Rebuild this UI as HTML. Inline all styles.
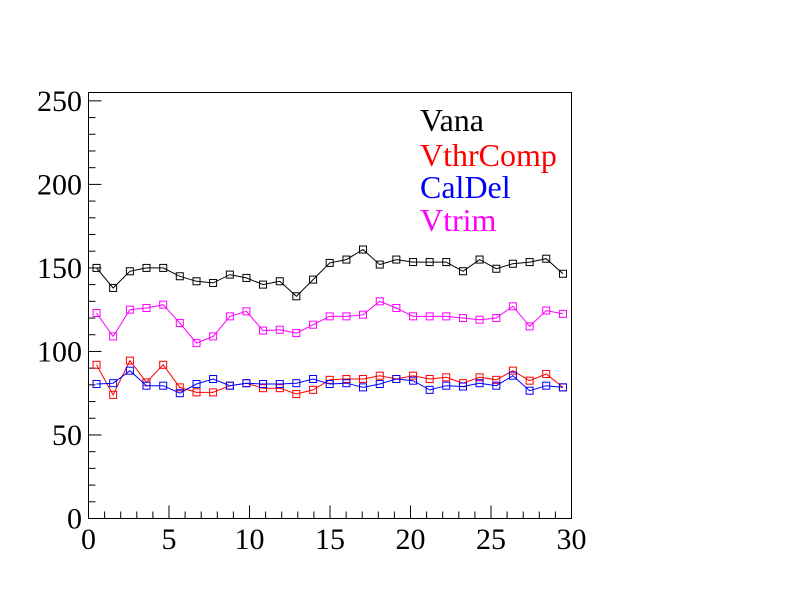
<!DOCTYPE html>
<html><head><meta charset="utf-8"><style>
body{margin:0;background:#fff}
svg{display:block}
text{font-family:"Liberation Serif",serif}
</style></head><body>
<svg id="c" width="792" height="612">
<rect x="88.5" y="92.5" width="483" height="426" fill="none" stroke="#000"/>
<g id="axes"></g>
<g id="series"></g>
<g font-size="32">
<text x="420" y="131" fill="#000">Vana</text>
<text x="420" y="166" fill="#f00">VthrComp</text>
<text x="420" y="198" fill="#00f">CalDel</text>
<text x="420" y="231" fill="#f0f">Vtrim</text>
</g>
</svg>
<script>
const xVals=[0.5,1.53,2.57,3.6,4.64,5.67,6.71,7.74,8.78,9.81,10.84,11.88,12.91,13.95,14.98,16.02,17.05,18.09,19.12,20.16,21.19,22.22,23.26,24.29,25.33,26.36,27.4,28.43,29.47];
const vana=[150,138,148,150,150,145,142,141,146,144,140,142,133,143,153,155,161,152,155,153.5,153.5,153.5,148,155,149.5,152.5,153.5,155.5,146.5];
const vtrim=[123,109,125,126,128,117,105,109,121,124,112.5,113,111,116,121,121,122,130,126,121,121,121,120,119,120,127,115,124.5,122.5];
const vthr=[92,74,94.5,81.5,92,78.5,75.5,75.5,79.5,81,78,78,74.5,77,83,83.5,83.5,85.5,83.5,85.5,83.5,84.5,81,84.5,83,88.5,82.5,86.5,78.5];
const caldel=[80.5,81,88.5,79.5,79.5,75,80.5,83.5,79.5,81,80.5,80.5,81,83.5,80.5,81,78.5,80.5,83.5,82.5,77,79.5,79,81,79.5,85.5,76.5,79.5,78.5];
const xTicks=[0,5,10,15,20,25,30];
const yTicks=[0,50,100,150,200,250];
const NS='http://www.w3.org/2000/svg';
const X0=88.5,X1=571.5,Y0=518.5,Y1=92.5;
const sx=v=>X0+v*(X1-X0)/30;
const sy=v=>Y0-v*(Y0-Y1)/255;
const ax=document.getElementById('axes'),sg=document.getElementById('series');
function mk(t,a,p){const e=document.createElementNS(NS,t);for(const k in a)e.setAttribute(k,a[k]);p.appendChild(e);return e;}
for(let i=0;i<=30;i++){const L=i%5==0?13:7;const l=mk('line',{x1:sx(i),x2:sx(i),y1:Y0,y2:Y0-L,stroke:'#000'},ax);

}
for(let v=0;v<=250;v+=10){const L=v%50==0?13:7;const l=mk('line',{x1:X0,x2:X0+L,y1:sy(v),y2:sy(v),stroke:'#000'},ax);

}
xTicks.forEach(t=>{const e=mk('text',{x:sx(t),y:549,'text-anchor':'middle','font-size':30},ax);e.textContent=t;

});
yTicks.forEach(t=>{const e=mk('text',{x:82,y:sy(t)+10,'text-anchor':'end','font-size':30},ax);e.textContent=t;

});
function draw(vals,col,name){
const g=mk('g',{},sg);


const pts=vals.map((v,i)=>sx(xVals[i]).toFixed(1)+','+sy(v).toFixed(1)).join(' ');
mk('polyline',{points:pts,fill:'none',stroke:col,'stroke-width':1},g);
vals.forEach((v,i)=>{const r=mk('rect',{x:sx(xVals[i])-3.5,y:sy(v)-3.5,width:7,height:7,fill:'none',stroke:col},g);

});}
draw(vana,'#000','vana');
draw(vtrim,'#f0f','vtrim');
draw(vthr,'#f00','vthrcomp');
draw(caldel,'#00f','caldel');
</script>
</body></html>
